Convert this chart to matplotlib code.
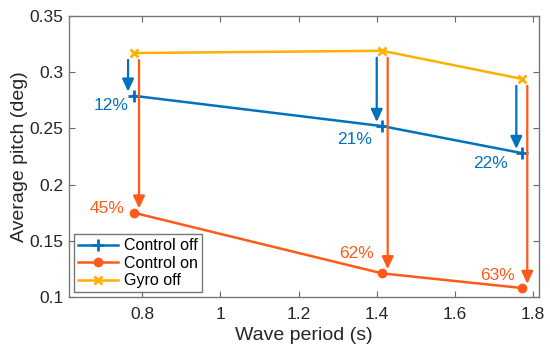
import matplotlib
matplotlib.use("Agg")
import matplotlib.pyplot as plt

# data
period = [0.778, 1.414, 1.771]
control_off = [0.279, 0.252, 0.228]
control_on = [0.175, 0.121, 0.108]
gyro_off = [0.317, 0.319, 0.294]
pct_off = ["12%", "21%", "22%"]
pct_on = ["45%", "62%", "63%"]
xticks = [0.8, 1.0, 1.2, 1.4, 1.6, 1.8]
xticklabels = ["0.8", "1", "1.2", "1.4", "1.6", "1.8"]
yticks = [0.1, 0.15, 0.2, 0.25, 0.3, 0.35]
yticklabels = ["0.1", "0.15", "0.2", "0.25", "0.3", "0.35"]

blue = "#0072BD"
red = "#FF5A1A"
yellow = "#FFB000"

plt.rcParams["font.family"] = ["Liberation Sans", "DejaVu Sans"]

fig = plt.figure(figsize=(5.5, 3.54), dpi=100)
ax = fig.add_axes([0.1255, 0.161, 0.8545, 0.794])

ax.plot(period, control_off, color=blue, lw=1.8, marker="+", ms=8, mew=2, label="Control off", zorder=3)
ax.plot(period, control_on, color=red, lw=1.8, marker="o", ms=6, label="Control on", zorder=3)
ax.plot(period, gyro_off, color=yellow, lw=1.8, marker="x", ms=6, mew=2, label="Gyro off", zorder=3)

# reduction arrows, blue just left of each point, red just right
arrow = "-|>,head_length=0.75,head_width=0.35"
for x, g, c in zip(period, gyro_off, control_off):
    ax.annotate("", xy=(x - 0.014, c), xytext=(x - 0.014, g),
                arrowprops=dict(arrowstyle=arrow, color=blue, lw=1.6, shrinkA=5, shrinkB=3))
for x, g, c in zip(period, gyro_off, control_on):
    ax.annotate("", xy=(x + 0.014, c), xytext=(x + 0.014, g),
                arrowprops=dict(arrowstyle=arrow, color=red, lw=1.6, shrinkA=5, shrinkB=3))

off_shift = [(-5, -10), (-10, -13), (-14, -10)]
on_shift = [(-9, 4), (-8, 20), (-7, 13)]
for x, c, t, d in zip(period, control_off, pct_off, off_shift):
    ax.annotate(t, xy=(x, c), xytext=d, textcoords="offset pixels",
                ha="right", va="center", color=blue, fontsize=12.5)
for x, c, t, d in zip(period, control_on, pct_on, on_shift):
    ax.annotate(t, xy=(x, c), xytext=d, textcoords="offset pixels",
                ha="right", va="center", color=red, fontsize=12.5)

ax.set_xlim(0.613, 1.815)
ax.set_ylim(0.1, 0.35)
ax.set_xticks(xticks)
ax.set_xticklabels(xticklabels)
ax.set_yticks(yticks)
ax.set_yticklabels(yticklabels)
ax.tick_params(direction="in", length=4, top=True, right=True, labelsize=12.5,
               color="#666666", labelcolor="#262626", pad=4)
ax.tick_params(axis="x", pad=7)
for s in ax.spines.values():
    s.set_color("#777777")
    s.set_linewidth(1)

ax.set_xlabel("Wave period (s)", fontsize=14, color="#262626", labelpad=4)
ax.set_ylabel("Average pitch (deg)", fontsize=14, color="#262626", labelpad=1)

leg = ax.legend(loc="lower left", fontsize=11.5, handlelength=2.5, borderaxespad=0.3,
                frameon=True, fancybox=False, edgecolor="#555555", borderpad=0.25,
                labelspacing=0.15, handletextpad=0.4)
leg.get_frame().set_linewidth(1)

fig.savefig("out.png", dpi=100)
